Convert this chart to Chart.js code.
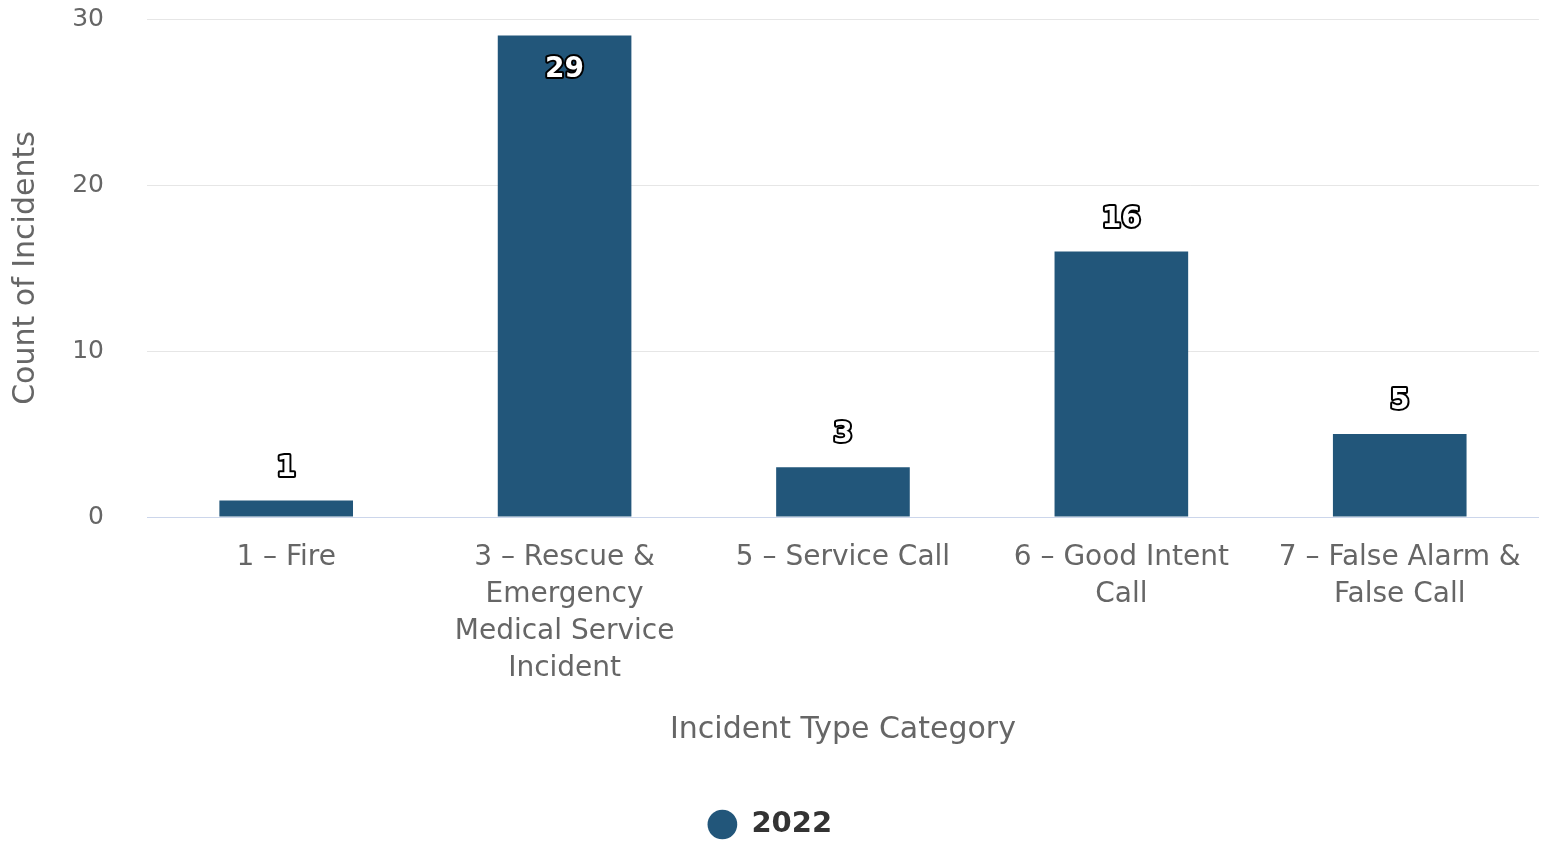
<!DOCTYPE html>
<html>
<head>
<meta charset="utf-8">
<script src="https://cdn.jsdelivr.net/npm/chart.js@4/dist/chart.umd.min.js"></script>
<style>
html,body{margin:0;padding:0;background:#fff;}
#wrap{width:1543px;height:844px;position:relative;}
</style>
</head>
<body>
<div id="wrap"><canvas id="c"></canvas></div>
<script>
const categories = [
  ["1 – Fire"],
  ["3 – Rescue &", "Emergency", "Medical Service", "Incident"],
  ["5 – Service Call"],
  ["6 – Good Intent", "Call"],
  ["7 – False Alarm &", "False Call"]
];
const seriesName = "2022";
const values2022 = [1, 29, 3, 16, 5];
const yTickValues = [0, 10, 20, 30];

const FONT = "'DejaVu Sans', sans-serif";
const BAR = "#22567A";

const dataLabels = {
  id: 'dataLabels',
  afterDatasetsDraw(chart) {
    const ctx = chart.ctx;
    const meta = chart.getDatasetMeta(0);
    const ds = chart.data.datasets[0];
    ctx.save();
    ctx.font = "bold 28px " + FONT;
    ctx.textAlign = 'center';
    ctx.textBaseline = 'middle';
    ctx.lineJoin = 'round';
    meta.data.forEach((el, i) => {
      let y = el.y - 32;
      if (y - 15 < chart.chartArea.top) y = el.y + 34;
      const t = String(ds.data[i]);
      ctx.lineWidth = 4;
      ctx.strokeStyle = '#000';
      ctx.strokeText(t, el.x, y);
      ctx.fillStyle = '#fff';
      ctx.fillText(t, el.x, y);
    });
    ctx.restore();
  }
};

new Chart(document.getElementById('c'), {
  type: 'bar',
  data: {
    labels: categories,
    datasets: [{
      label: seriesName,
      data: values2022,
      backgroundColor: BAR,
      borderWidth: 0,
      barPercentage: 0.48,
      categoryPercentage: 1
    }]
  },
  options: {
    responsive: true,
    maintainAspectRatio: false,
    animation: false,
    devicePixelRatio: 1,
    layout: { padding: { top: 19, right: 3, left: 0, bottom: -5 } },
    plugins: {
      tooltip: { enabled: false },
      legend: {
        position: 'bottom',
        labels: {
          usePointStyle: true,
          pointStyle: 'circle',
          boxWidth: 30,
          boxHeight: 21,
          padding: 4,
          color: '#333',
          font: { family: FONT, size: 29, weight: 'bold' }
        }
      }
    },
    scales: {
      x: {
        grid: { display: false, drawTicks: false },
        border: { display: true, color: '#ccd6eb', width: 1 },
        ticks: {
          color: '#666',
          font: { family: FONT, size: 28, lineHeight: 1.32 },
          padding: 22,
          maxRotation: 0,
          autoSkip: false
        },
        title: {
          display: true,
          text: 'Incident Type Category',
          color: '#666',
          font: { family: FONT, size: 30, lineHeight: 1.2 },
          padding: { top: 0, bottom: 58 }
        },
        afterFit(scale) {
          const c = scale.chart;
          scale.height = c.height - 517 - c.legend.height + 5;
        }
      },
      y: {
        min: 0,
        max: 30,
        afterBuildTicks(scale) {
          scale.ticks = yTickValues.map(v => ({ value: v }));
        },
        grid: { color: '#e6e6e6', lineWidth: 1, drawTicks: true, tickLength: 43, tickColor: 'rgba(0,0,0,0)' },
        border: { display: false },
        ticks: {
          color: '#666',
          font: { family: FONT, size: 25 },
          padding: 0
        },
        title: {
          display: true,
          text: 'Count of Incidents',
          color: '#666',
          font: { family: FONT, size: 30, lineHeight: 1.2 },
          padding: { top: 8, bottom: 0 }
        },
        afterFit(scale) { scale.width = 147; }
      }
    }
  },
  plugins: [dataLabels]
});
</script>
</body>
</html>
